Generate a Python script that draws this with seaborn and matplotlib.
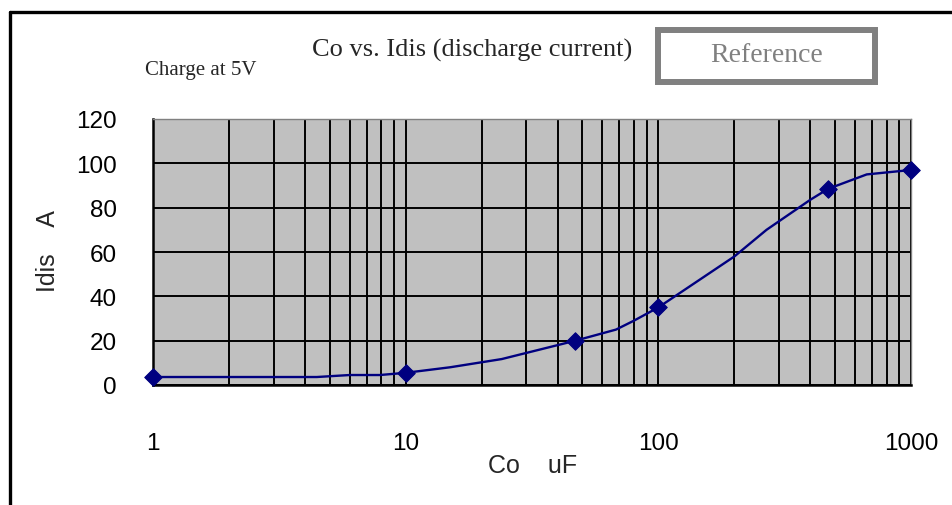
import numpy as np
import pandas as pd
import matplotlib
matplotlib.use("Agg")
import matplotlib.pyplot as plt
from matplotlib.lines import Line2D
from matplotlib.patches import Rectangle
import seaborn as sns

# measured points (markers)
co_uf = [1, 10, 47, 100, 470, 1000]
idis_a = [3.6, 5.5, 20, 35, 88.5, 97]

# smooth curve
curve_co = [1, 4.45, 6, 7.9, 10, 15, 24, 47, 68, 80, 100, 200, 268, 400, 470, 668, 1000]
curve_idis = [3.6, 3.6, 4.5, 4.5, 5.5, 8, 11.7, 20, 25, 29, 35, 58, 70, 83.6, 88.5, 95, 97]

y_ticks = [0, 20, 40, 60, 80, 100, 120]
x_ticks = [1, 10, 100, 1000]
x_ticklabels = ["1", "10", "100", "1000"]

sns.set_style("white")
plt.rcParams["font.family"] = ["Liberation Sans", "DejaVu Sans"]

fig = plt.figure(figsize=(9.52, 5.06), dpi=100)
ax = fig.add_axes([153 / 952, 1 - 386 / 506, (911 - 153) / 952, (386 - 120) / 506])
ax.set_facecolor("#c0c0c0")

df_curve = pd.DataFrame({"co": curve_co, "idis": curve_idis})
df_pts = pd.DataFrame({"co": co_uf, "idis": idis_a})

sns.lineplot(data=df_curve, x="co", y="idis", ax=ax, color="#000080", lw=1.7, zorder=4)
sns.scatterplot(data=df_pts, x="co", y="idis", ax=ax, color="#000080", marker="D",
                s=80, edgecolor="#000080", zorder=5, clip_on=False)

ax.set_xscale("log")
ax.set_xlim(1, 1000)
ax.set_ylim(0, 120)
ax.set_yticks(y_ticks)
ax.set_xticks(x_ticks)
ax.set_xticklabels(x_ticklabels)
ax.xaxis.set_minor_locator(matplotlib.ticker.LogLocator(base=10, subs=np.arange(2, 10)))
ax.xaxis.set_minor_formatter(matplotlib.ticker.NullFormatter())
ax.grid(True, which="both", axis="x", color="black", lw=1.4)
ax.grid(True, which="major", axis="y", color="black", lw=1.4)
ax.set_axisbelow(True)
ax.tick_params(axis="both", which="both", length=0, labelsize=17.5, colors="black")
ax.tick_params(axis="x", pad=34)
ax.tick_params(axis="y", pad=26)
ax.set_xlabel("")
ax.set_ylabel("")

for side in ["left", "bottom"]:
    ax.spines[side].set_color("black")
    ax.spines[side].set_linewidth(1.8)
for side in ["top", "right"]:
    ax.spines[side].set_color("#808080")
    ax.spines[side].set_linewidth(1.0)

fig.text(533 / 952, 1 - 466 / 506, "Co    uF", ha="center", va="center", fontsize=18)
fig.text(48 / 952, 1 - 251 / 506, "Idis    A", ha="center", va="center", rotation=90, fontsize=18)

serif = ["Liberation Serif", "DejaVu Serif"]
fig.text(472 / 952, 1 - 50 / 506, "Co vs. Idis (discharge current)", ha="center", va="center",
         fontsize=19, family=serif)
fig.text(201 / 952, 1 - 70 / 506, "Charge at 5V", ha="center", va="center", fontsize=15, family=serif)
fig.text(767 / 952, 1 - 56 / 506, "Reference", ha="center", va="center", fontsize=20,
         family=serif, color="#808080")

fig.patches.append(Rectangle((658 / 952, 1 - 83 / 506), (875 - 658) / 952, (83 - 31) / 506,
                             transform=fig.transFigure, fill=False, edgecolor="#808080", lw=4.3))

# outer frame (runs off the right and bottom edges)
fig.lines.append(Line2D([10 / 952, 1.05], [1 - 13 / 506] * 2, transform=fig.transFigure,
                        color="black", lw=2.4))
fig.lines.append(Line2D([10 / 952] * 2, [1 - 13 / 506, -0.05], transform=fig.transFigure,
                        color="black", lw=2.4))

fig.savefig("out.png", dpi=100)
